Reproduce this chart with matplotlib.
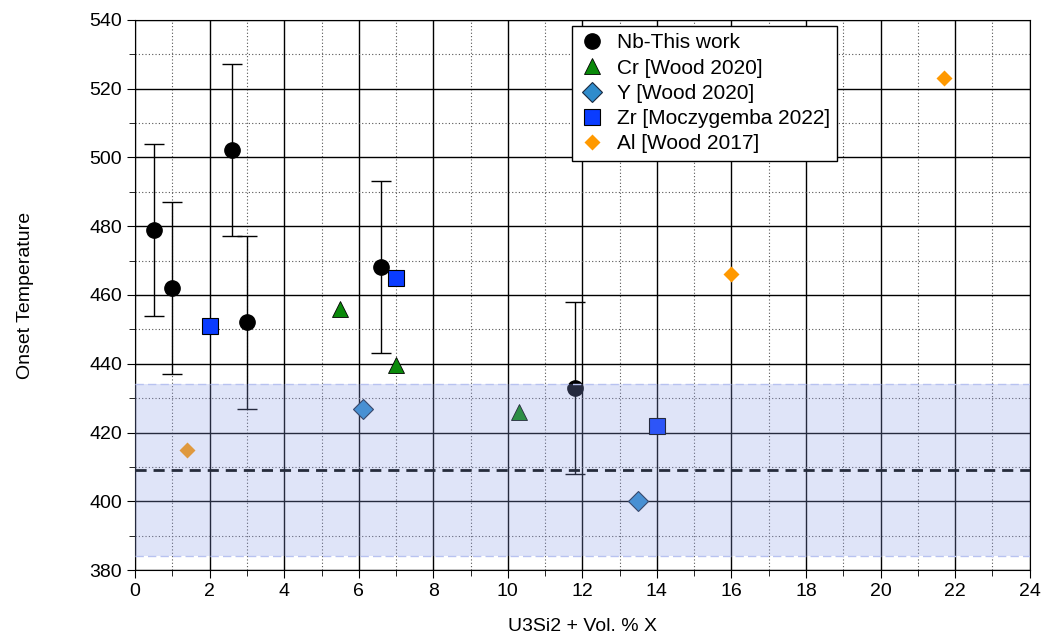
import matplotlib.pyplot as plt
import numpy as np
from matplotlib.lines import Line2D

plt.rcParams['font.family'] = ['Liberation Sans', 'DejaVu Sans']

# Nb - this work
nb_x = [0.5, 1.0, 2.6, 3.0, 6.6, 11.8]
nb_y = [479, 462, 502, 452, 468, 433]
nb_err = [25, 25, 25, 25, 25, 25]
# Cr [Wood 2020]
cr_x = [5.5, 7.0, 10.3]
cr_y = [456, 439.5, 426]
# Y [Wood 2020]
y_x = [6.1, 13.5]
y_y = [427, 400]
# Zr [Moczygemba 2022]
zr_x = [2.0, 7.0, 14.0]
zr_y = [451, 465, 422]
# Al [Wood 2017]
al_x = [1.4, 16.0, 21.7]
al_y = [415, 466, 523]

# reference band (pure U3Si2)
ref_mean = 409
ref_low, ref_high = 384, 434

fig = plt.figure(figsize=(10.56, 6.35), dpi=100)
ax = fig.add_axes([0.128, 0.102, 0.847, 0.867])

ax.errorbar(nb_x, nb_y, yerr=nb_err, fmt='o', color='black', ms=11,
            ecolor='black', elinewidth=1, capsize=7, capthick=1, zorder=4)
ax.plot(cr_x, cr_y, '^', color='#0a8a0a', mec='black', mew=0.6, ms=11, zorder=4)
ax.plot(y_x, y_y, 'D', color='#2f8ccc', mec='#1a2a40', mew=0.8, ms=10, zorder=4)
ax.plot(zr_x, zr_y, 's', color='#0a3cff', mec='black', mew=0.8, ms=12, zorder=4)
ax.plot(al_x, al_y, 'D', color='#ff9900', mec='none', ms=8, zorder=4)

ax.axhspan(ref_low, ref_high, color='#8c9ce6', alpha=0.27, lw=0, zorder=5)
ax.axhline(ref_low, color='#b8c2f0', lw=1, ls=(0, (6, 3)), zorder=5)
ax.axhline(ref_high, color='#b8c2f0', lw=1, ls=(0, (6, 3)), zorder=5)
ax.axhline(ref_mean, color='#262c3c', lw=2, ls=(0, (4, 2.5)), zorder=6)

ax.set_xlim(0, 24)
ax.set_ylim(380, 540)
ax.set_xticks(np.arange(0, 25, 2))
ax.set_xticks(np.arange(0, 25, 1), minor=True)
ax.set_yticks(np.arange(380, 541, 20))
ax.set_yticks(np.arange(380, 541, 10), minor=True)
ax.grid(which='major', color='black', lw=1)
ax.grid(which='minor', color='#555555', lw=0.8, ls=(0, (1, 2)))
ax.set_axisbelow(True)
ax.tick_params(which='major', direction='out', length=6, labelsize=14)
ax.tick_params(which='minor', direction='out', length=4)

ax.set_xlabel('U3Si2 + Vol. % X', fontsize=14, labelpad=13)
ax.set_ylabel('Onset Temperature', fontsize=14, labelpad=40)

handles = [
    Line2D([], [], ls='none', marker='o', color='black', ms=11),
    Line2D([], [], ls='none', marker='^', color='#0a8a0a', mec='black', mew=0.6, ms=11),
    Line2D([], [], ls='none', marker='D', color='#2f8ccc', mec='#1a2a40', mew=0.8, ms=10),
    Line2D([], [], ls='none', marker='s', color='#0a3cff', mec='black', mew=0.8, ms=12),
    Line2D([], [], ls='none', marker='D', color='#ff9900', mec='none', ms=8),
]
labels = ['Nb-This work', 'Cr [Wood 2020]', 'Y [Wood 2020]',
          'Zr [Moczygemba 2022]', 'Al [Wood 2017]']
leg = ax.legend(handles, labels, loc='upper left', bbox_to_anchor=(0.484, 0.996),
                fontsize=15, frameon=True, fancybox=False, edgecolor='black',
                framealpha=1, handletextpad=0.6, borderpad=0.35,
                labelspacing=0.3, handlelength=1.2, borderaxespad=0.2)
leg.get_frame().set_linewidth(1)
leg.set_zorder(10)

fig.savefig('out.png', dpi=100)
